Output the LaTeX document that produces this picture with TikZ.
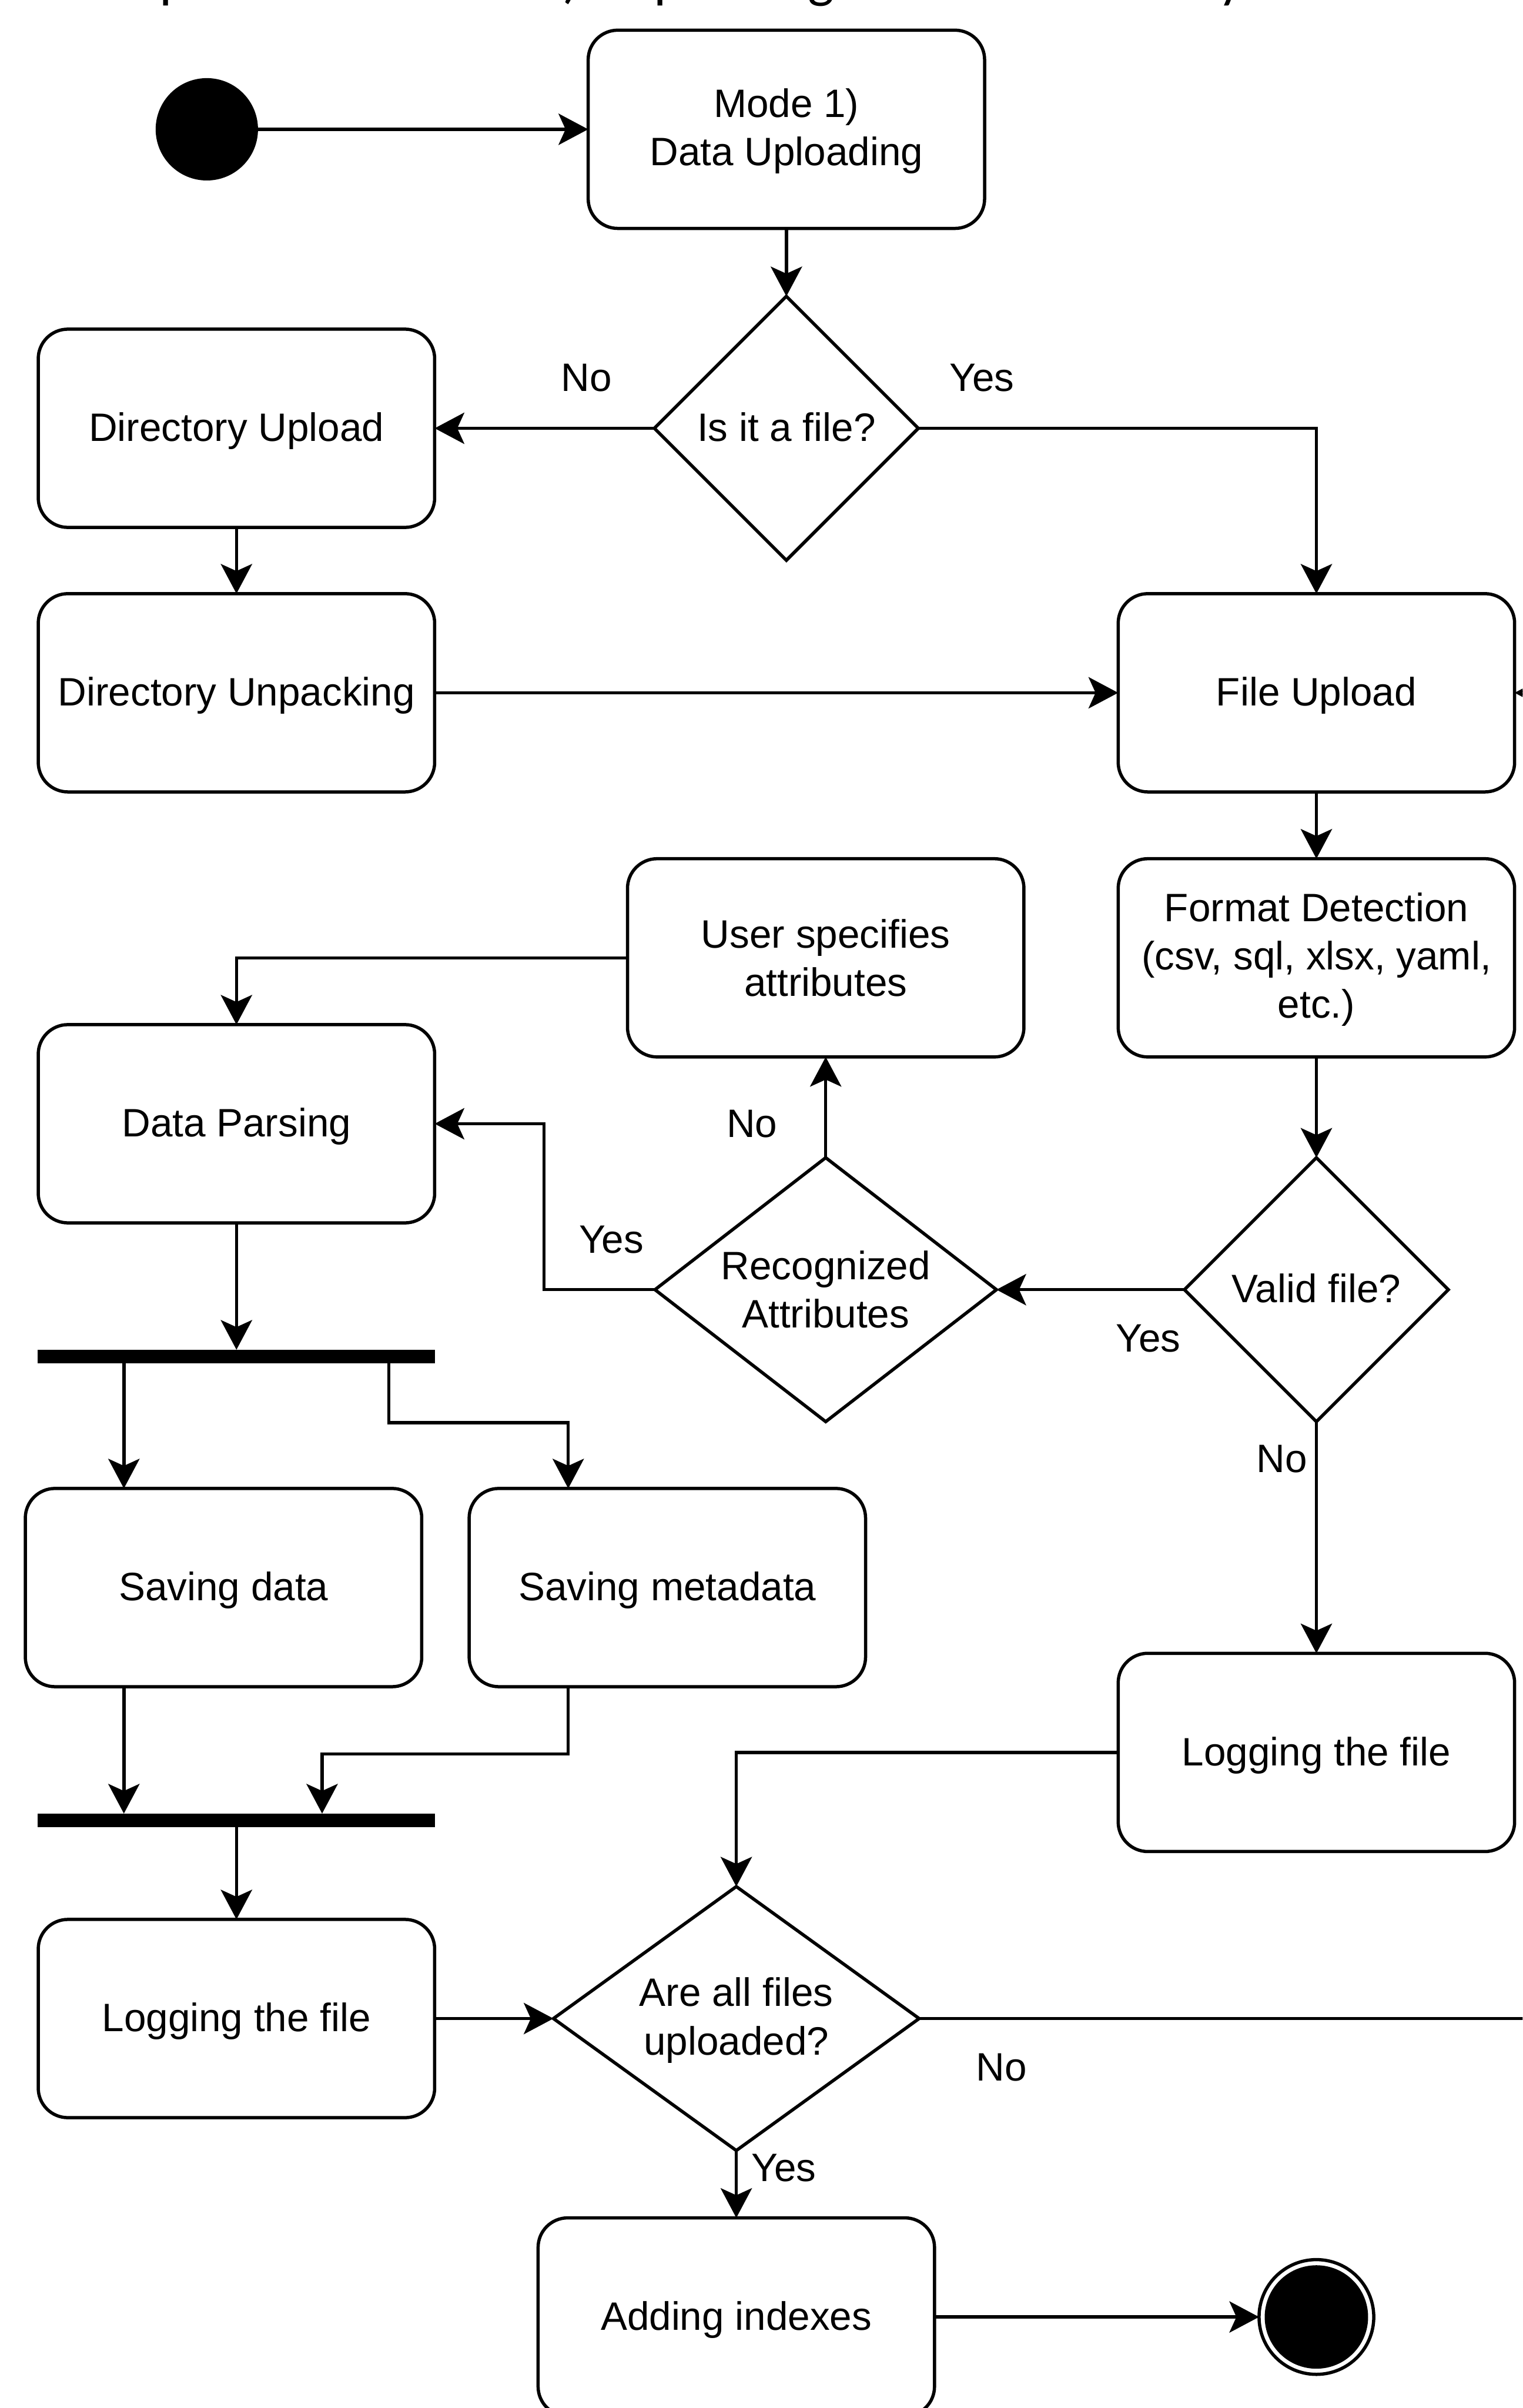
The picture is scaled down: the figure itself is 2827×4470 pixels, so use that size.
\documentclass[tikz,border=0pt]{standalone}
\usepackage{fontspec}
\setmainfont{Liberation Sans}
\newfontfamily\capfont{Carlito}
\usetikzlibrary{arrows.meta,calc}
\newcommand\toppad{\rule{0pt}{15pt}}
\begin{document}
\begin{tikzpicture}[x=0.25pt,y=-0.25pt,
  every node/.style={font=\fontsize{18.4}{22.4}\selectfont, inner sep=0pt, outer sep=0pt},
  ln/.style={line width=1.5pt},
  arr/.style={ln, -{Stealth[length=13.75pt,width=14.5pt,inset=3.25pt]}},
  box/.style={draw, line width=1.5pt, rounded corners=13.75pt, minimum width=184pt, minimum height=92pt, align=center},
  one/.style={text height=16pt, text depth=3.9pt},
  dia/.style={minimum height=122.5pt, align=center},
  bar/.style={fill=black, minimum width=184.5pt, minimum height=6.25pt},
  capfrag/.style={font=\capfont\fontsize{26}{30}\selectfont, anchor=base west}
]
\useasboundingbox (0,0) rectangle (2827,4470);
\clip (0,0) rectangle (2827,4470);

% caption fragments cut off at the top edge
\node[capfrag] (f1) at (296,-6) {p};
\node[capfrag] (f2) at (1045,-6) {)};
\node[capfrag] (f3) at (1214,-6) {p};
\node[capfrag] (f4) at (1500,-6) {g};
\node[capfrag] (f5) at (2262,-6) {y};

% nodes
\node[circle, fill=black, minimum size=47.5pt] (start) at (384,240) {};
\node[box] (mode) at (1460,240) {\toppad Mode 1)\\Data Uploading};
\node[dia, one, minimum width=122.5pt] (d1) at (1460,795) {Is it a file?};
\draw[ln] (d1.north) -- (d1.east) -- (d1.south) -- (d1.west) -- cycle;
\node[box, one] (dirup) at (439,795) {Directory Upload};
\node[box, one] (dirunp) at (439,1286) {Directory Unpacking};
\node[box, one] (fileup) at (2444,1286) {File Upload};
\node[box] (format) at (2444,1778) {\toppad Format Detection\\(csv, sql, xlsx, yaml,\\etc.)};
\node[box] (user) at (1533,1778) {User specifies\\attributes};
\node[box, one] (parse) at (439,2086) {Data Parsing};
\node[dia, minimum width=158.5pt] (recog) at (1533,2394) {Recognized\\Attributes};
\draw[ln] (recog.north) -- (recog.east) -- (recog.south) -- (recog.west) -- cycle;
\node[dia, one, minimum width=122.5pt] (valid) at (2444,2394) {Valid file?};
\draw[ln] (valid.north) -- (valid.east) -- (valid.south) -- (valid.west) -- cycle;
\node[bar] (bar1) at (439,2518) {};
\node[box, one] (savdata) at (415,2947) {Saving data};
\node[box, one] (savmeta) at (1239,2947) {Saving metadata};
\node[bar] (bar2) at (439,3379) {};
\node[box, one] (logL) at (439,3747) {Logging the file};
\node[box, one] (logR) at (2444,3253) {Logging the file};
\node[dia, minimum width=169.75pt] (allf) at (1367,3747) {\toppad Are all files\\uploaded?};
\draw[ln] (allf.north) -- (allf.east) -- (allf.south) -- (allf.west) -- cycle;
\node[box, one] (adding) at (1367,4301) {Adding indexes};
\node[circle, fill=black, minimum size=48pt] (endc) at (2444,4301) {};
\node[circle, draw, line width=1.5pt, minimum size=53.25pt] (endo) at (2444,4301) {};

% helper coordinates
\coordinate (offA) at (2950,1286);
\coordinate (offB) at (2950,3747);
\coordinate (jx) at (1010,0);
\coordinate (cA) at (230,0);
\coordinate (t1) at (722,2641);
\coordinate (t2) at (1055,2641);
\coordinate (t3) at (1055,3256);
\coordinate (t4) at (598,3256);

% connectors
\draw[arr] (start) -- (mode.west);
\draw[arr] (mode.south) -- (d1.north);
\draw[arr] (d1.west) -- (dirup.east);
\draw[arr] (d1.east) -| (fileup.north);
\draw[arr] (dirup.south) -- (dirunp.north);
\draw[arr] (dirunp.east) -- (fileup.west);
\draw[arr] (offA) -- (fileup.east);
\draw[arr] (fileup.south) -- (format.north);
\draw[arr] (format.south) -- (valid.north);
\draw[arr] (valid.west) -- (recog.east);
\draw[arr] (recog.north) -- (user.south);
\draw[arr] (user.west) -| (parse.north);
\draw[arr] (recog.west) -- (recog.west -| jx) |- (parse.east);
\draw[arr] (parse.south) -- (bar1.north);
\draw[arr] (bar1.south -| cA) -- (savdata.north -| cA);
\draw[arr] (bar1.south -| t1) -- (t1) -- (t2) -- (savmeta.north -| t2);
\draw[arr] (savdata.south -| cA) -- (bar2.north -| cA);
\draw[arr] (savmeta.south -| t3) -- (t3) -- (t4) -- (bar2.north -| t4);
\draw[arr] (bar2.south) -- (logL.north);
\draw[arr] (logL.east) -- (allf.west);
\draw[arr] (valid.south) -- (logR.north);
\draw[arr] (logR.west) -| (allf.north);
\draw[ln] (allf.east) -- (offB);
\draw[arr] (allf.south) -- (adding.north);
\draw[arr] (adding.east) -- (endo.west);

% labels
\node (lab1) at (1089,701) {No};
\node (lab2) at (1823,701) {Yes};
\node (lab3) at (1396,2086) {No};
\node (lab4) at (1135,2301) {Yes};
\node (lab5) at (2132,2485) {Yes};
\node (lab6) at (2380,2708) {No};
\node (lab7) at (1859,3838) {No};
\node (lab8) at (1455,4024) {Yes};
\end{tikzpicture}
\end{document}
